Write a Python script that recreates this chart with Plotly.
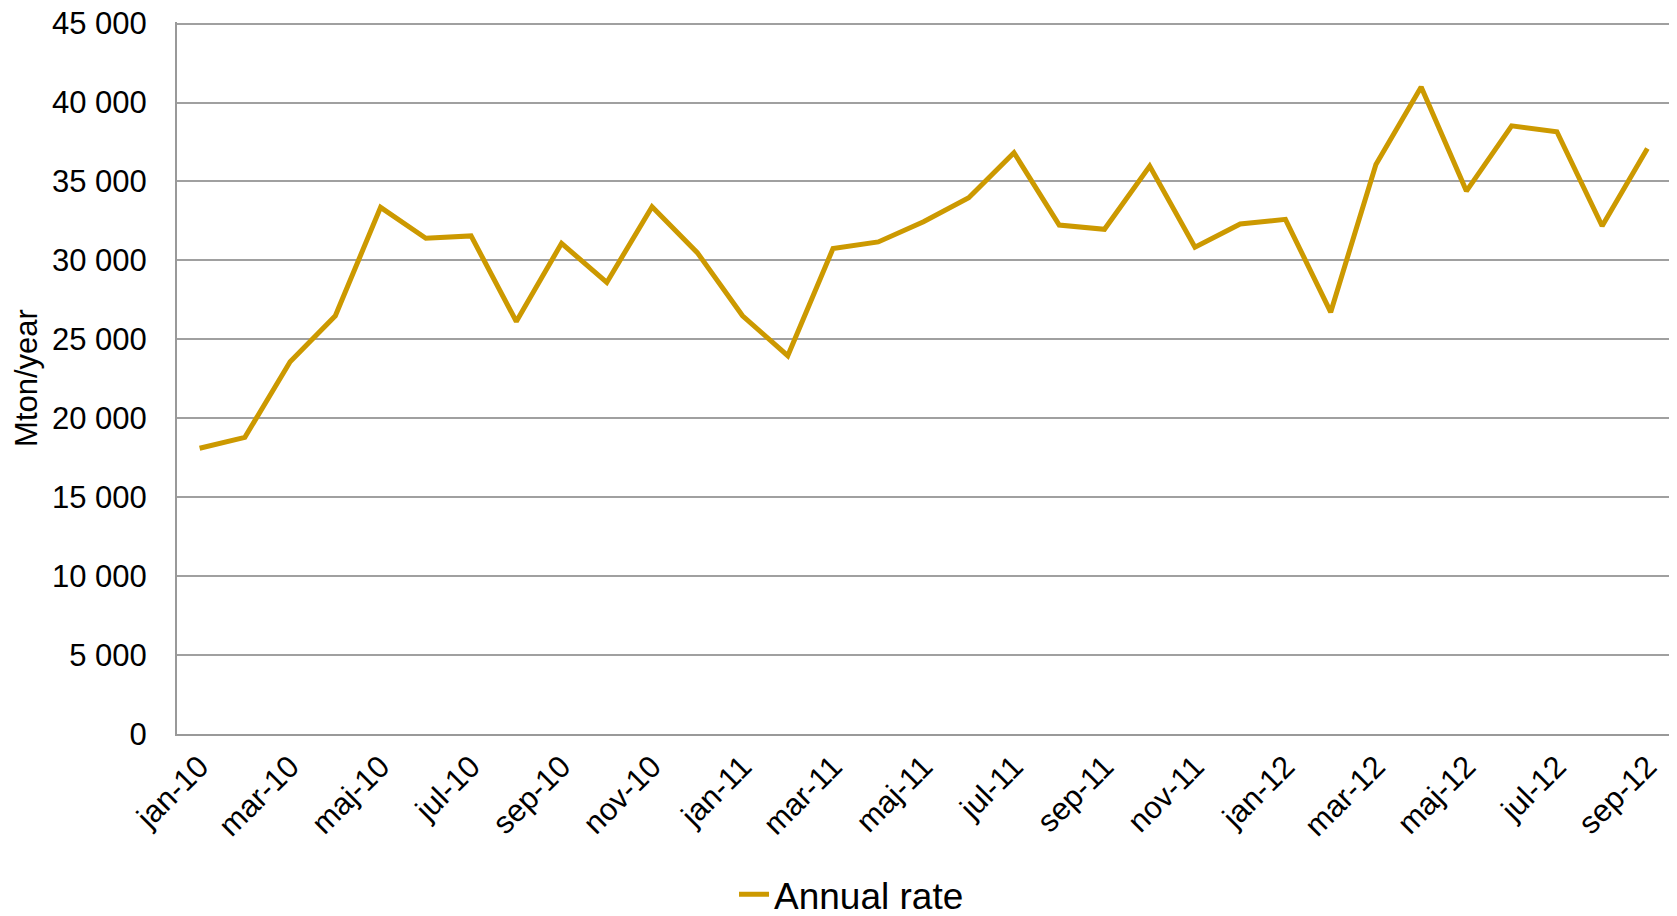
import plotly.graph_objects as go

months = ["jan", "feb", "mar", "apr", "maj", "jun", "jul", "aug", "sep", "okt", "nov", "dec"]
categories = [f"{m}-{y}" for y in ["10", "11", "12"] for m in months][:33]

annual_rate = [
    18100, 18790, 23580, 26490, 33360, 31400, 31550, 26130, 31080, 28600, 33400, 30490,
    26490, 23960, 30750, 31170, 32450, 33970, 36820, 32240, 31970, 35970, 30830, 32310,
    32600, 26720, 36080, 40990, 34390, 38520, 38150, 32180, 37090,
]

tick_labels = categories[::2]

fig = go.Figure()
fig.add_trace(go.Scatter(
    x=categories, y=annual_rate, mode="lines", name="Annual rate",
    line=dict(color="#CC9900", width=5),
))

font_family = "Liberation Sans, Arial, sans-serif"

fig.update_layout(
    width=1677, height=916,
    margin=dict(l=169, r=15, t=14, b=190, autoexpand=False),
    paper_bgcolor="white", plot_bgcolor="white",
    separators=". ",
    font=dict(family=font_family, size=31, color="black"),
    showlegend=True,
    legend=dict(
        orientation="h", xref="container", yref="container",
        x=0.503, xanchor="center", y=0.032, yanchor="middle",
        font=dict(size=37, color="black"),
    ),
    xaxis=dict(
        type="category", tickmode="array", tickvals=tick_labels, ticktext=tick_labels,
        range=[-0.5, 32.5],
        tickangle=-45, showgrid=False, showline=True, linecolor="#999999", linewidth=2,
        ticks="", tickfont=dict(size=31), automargin=False,
    ),
    yaxis=dict(
        range=[0, 45100], tick0=0, dtick=5000, tickformat=",d",
        showgrid=True, gridcolor="#A0A0A0", gridwidth=1.5,
        showline=True, linecolor="#999999", linewidth=2,
        zeroline=False, ticks="", ticklabelstandoff=22, ticklabeloverflow="allow",
        tickfont=dict(size=31), automargin=False,
        title=dict(text="Mton/year", font=dict(size=31), standoff=5),
    ),
)

fig.write_html("out.html")
